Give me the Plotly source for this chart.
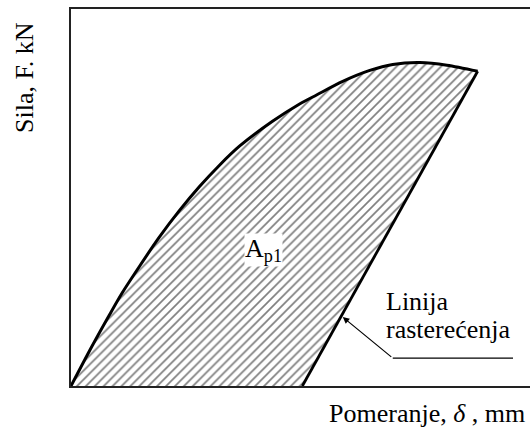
import plotly.graph_objects as go

# Loading curve (displacement, force) in arbitrary units
load_x = [0.0, 0.46, 0.83, 1.11, 1.49, 1.92, 2.36, 2.80, 3.23, 3.67, 4.39, 4.98, 5.35, 5.92, 6.51, 7.01, 7.60, 8.19, 8.86]
load_y = [0.0, 1.06, 1.87, 2.46, 3.17, 3.94, 4.65, 5.29, 5.85, 6.36, 7.02, 7.48, 7.72, 8.08, 8.37, 8.53, 8.58, 8.51, 8.35]
# Unloading line (from peak point to residual displacement)
unload_x = [8.86, 5.04]
unload_y = [8.35, 0.0]

# Leader line for the label "Linija rasterećenja"
leader_x = [7.01, 9.63]
leader_y = [0.74, 0.74]
arrow_head = (5.92, 1.83)
arrow_tail = (7.01, 0.74)

x_title = "Pomeranje, <i>δ</i> , mm"
y_title = "Sila, F. kN"
area_label = "A<sub>p1</sub>"
unload_label = ["Linija", "rasterećenja"]

FONT = "Liberation Serif, Times New Roman, serif"
FS = 26

fig = go.Figure()

# Hatched area
area_x = load_x + unload_x[1:] + [load_x[0]]
area_y = load_y + unload_y[1:] + [load_y[0]]
fig.add_trace(go.Scatter(
    x=area_x, y=area_y, mode="lines", fill="toself",
    line=dict(width=0, color="black"),
    fillcolor="white",
    fillpattern=dict(shape="/", size=6.3, solidity=0.27, fgcolor="black", bgcolor="white"),
    hoverinfo="skip", showlegend=False))

fig.add_trace(go.Scatter(x=load_x, y=load_y, mode="lines",
                         line=dict(color="black", width=3, shape="spline", smoothing=0.8),
                         showlegend=False))
fig.add_trace(go.Scatter(x=unload_x, y=unload_y, mode="lines", line=dict(color="black", width=2.8),
                         showlegend=False))
fig.add_trace(go.Scatter(x=leader_x, y=leader_y, mode="lines", line=dict(color="black", width=1.2),
                         showlegend=False))

fig.add_annotation(x=arrow_head[0], y=arrow_head[1], ax=arrow_tail[0], ay=arrow_tail[1],
                   xref="x", yref="y", axref="x", ayref="y", text="", showarrow=True,
                   arrowhead=2, arrowsize=1.1, arrowwidth=1.2, arrowcolor="black")

fig.add_annotation(x=3.76, y=3.62, xref="x", yref="y", text=area_label, showarrow=False,
                   xanchor="left", yanchor="middle", bgcolor="white", borderpad=0,
                   font=dict(family=FONT, size=FS, color="black"))
fig.add_annotation(x=6.81, y=2.23, xref="x", yref="y", text=unload_label[0], showarrow=False,
                   xanchor="left", yanchor="middle", font=dict(family=FONT, size=FS, color="black"))
fig.add_annotation(x=6.81, y=1.49, xref="x", yref="y", text=unload_label[1], showarrow=False,
                   xanchor="left", yanchor="middle", font=dict(family=FONT, size=FS, color="black"))

fig.add_annotation(x=(527 - 71) / 459, y=(386 - 413) / 377, xref="paper", yref="paper", text=x_title,
                   showarrow=False, xanchor="right", yanchor="middle",
                   font=dict(family=FONT, size=FS, color="black"))
fig.add_annotation(x=(24 - 71) / 459, y=(386 - 78) / 377, xref="paper", yref="paper", text=y_title,
                   showarrow=False, textangle=-90, xanchor="center", yanchor="middle",
                   font=dict(family=FONT, size=FS, color="black"))

fig.update_xaxes(range=[0, 10], showline=True, mirror=True, linecolor="#222", linewidth=1.6,
                 showgrid=False, zeroline=False, showticklabels=False, ticks="")
fig.update_yaxes(range=[0, 10], showline=True, mirror=False, linecolor="#222", linewidth=1.6,
                 showgrid=False, zeroline=False, showticklabels=False, ticks="")

fig.update_layout(width=530, height=428, margin=dict(l=71, r=0, t=9, b=42),
                  paper_bgcolor="white", plot_bgcolor="white", showlegend=False)

fig.write_html("out.html", config={"displayModeBar": False},
               post_script="document.body.style.margin='0px';document.body.style.overflow='hidden';")
